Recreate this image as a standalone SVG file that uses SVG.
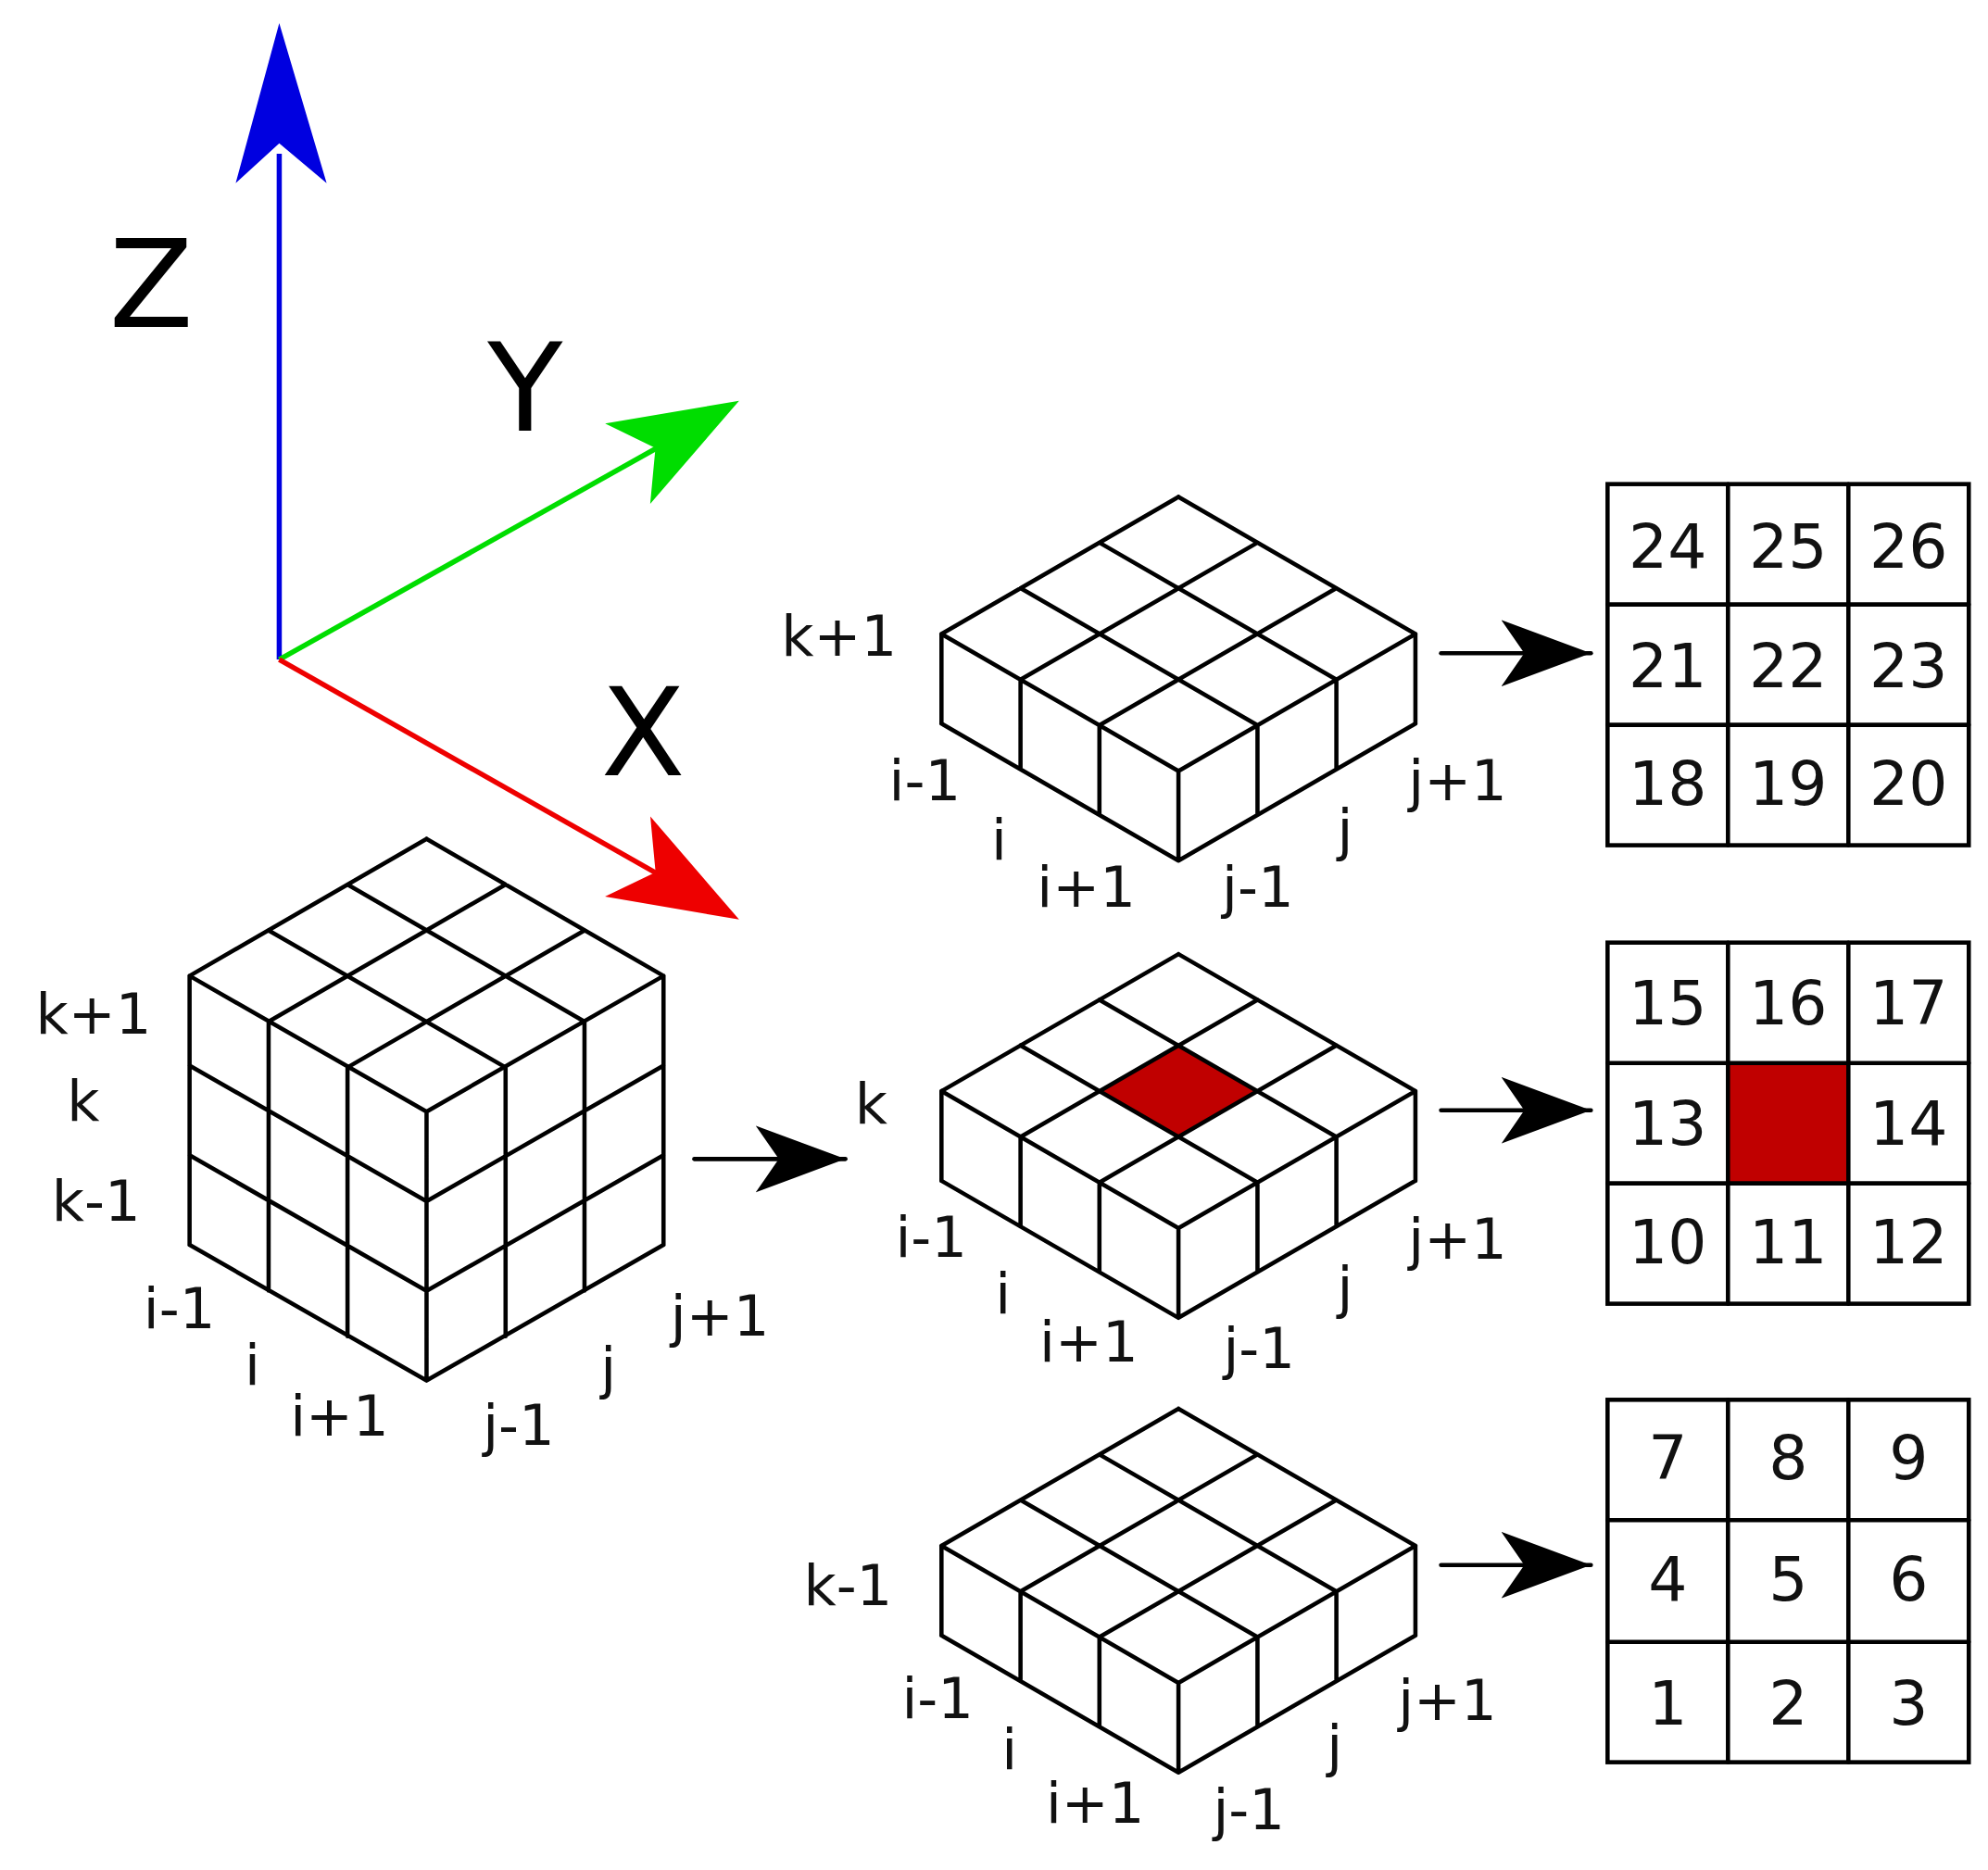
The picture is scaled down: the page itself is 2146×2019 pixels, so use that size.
<svg xmlns="http://www.w3.org/2000/svg" xmlns:xlink="http://www.w3.org/1999/xlink" width="2146" height="2019" viewBox="0 0 2146 2019">
<style>
.ln{stroke:#000;stroke-width:3.3;fill:none;stroke-linecap:round;stroke-linejoin:round}
.t{font-family:"DejaVu Sans",Verdana,sans-serif;font-size:44px;fill:#111;text-anchor:middle;dominant-baseline:central}
.n{font-family:"DejaVu Sans",Verdana,sans-serif;font-size:48px;fill:#111;text-anchor:middle;dominant-baseline:central}
.ax{font-family:"DejaVu Sans",Verdana,sans-serif;font-size:96px;fill:#000;text-anchor:middle;dominant-baseline:central}
.cell{fill:#fff;stroke:#000;stroke-width:3.3}
</style>
<defs>
<marker id="ah" markerUnits="userSpaceOnUse" markerWidth="80" markerHeight="60" refX="70" refY="30" orient="auto">
<path d="M70,30 L0,4 L18,30 L0,56 Z" fill="#000"/>
</marker>
<g id="slab">
<path class="ln" d="M0,0 L185,107 M-61.7,35.7 L123.3,142.7 M-123.3,71.3 L61.7,178.3 M-185,107 L0,214 M0,0 L-185,107 M61.7,35.7 L-123.3,142.7 M123.3,71.3 L-61.7,178.3 M185,107 L0,214 M-185,107 V177 M-123.3,142.7 V212.7 M-61.7,178.3 V248.3 M0,214 V284 M61.7,178.3 V248.3 M123.3,142.7 V212.7 M185,107 V177 M-185,177 L0,284 L185,177"/>
</g>
</defs>
<rect width="2146" height="2019" fill="#fff"/>
<g transform="scale(1.38273)">
<g id="axes">
<line x1="218" y1="515" x2="218" y2="120" stroke="#0000e0" stroke-width="4"/>
<path d="M218,18 L184,143 L218,112 L255,143 Z" fill="#0000e0"/>
<line x1="218" y1="515" x2="525" y2="343" stroke="#00dd00" stroke-width="4"/>
<path d="M577,313 L472.4,330.6 L511.7,349.8 L507.6,393.4 Z" fill="#00dd00"/>
<line x1="218" y1="515" x2="525" y2="689" stroke="#ee0000" stroke-width="4"/>
<path d="M577,718 L507.7,637.5 L511.8,681 L472.3,700.1 Z" fill="#ee0000"/>
<text class="ax" x="118" y="222">Z</text>
<text class="ax" x="410" y="303">Y</text>
<text class="ax" x="502" y="572">X</text>
</g>
<g id="cube">
<path class="ln" d="M333,655 L518,762 M271.3,690.7 L456.3,797.7 M209.6,726.4 L394.6,833.4 M148,762 L333,868 M333,655 L148,762 M394.7,690.7 L209.7,797.7 M456.4,726.4 L271.4,833.4 M518,762 L333,868
M148,762 V972 M209.7,797.7 V1007.7 M271.3,833.4 V1043.4 M333,868 V1078 M394.7,833.4 V1043.4 M456.3,797.7 V1007.7 M518,762 V972
M148,832 L333,938 L518,832 M148,902 L333,1008 L518,902 M148,972 L333,1078 L518,972"/>
<text class="t" x="73" y="792">k+1</text>
<text class="t" x="65" y="860">k</text>
<text class="t" x="75" y="938">k-1</text>
<text class="t" x="140" y="1022">i-1</text>
<text class="t" x="197" y="1066">i</text>
<text class="t" x="265" y="1106">i+1</text>
<text class="t" x="405" y="1113">j-1</text>
<text class="t" x="475" y="1068">j</text>
<text class="t" x="562" y="1028">j+1</text>
</g>
<g id="slab-top">
<use xlink:href="#slab" href="#slab" x="920" y="388"/>
<text class="t" x="655" y="497">k+1</text>
<text class="t" x="722" y="610">i-1</text>
<text class="t" x="780" y="656">i</text>
<text class="t" x="848" y="693">i+1</text>
<text class="t" x="982" y="693">j-1</text>
<text class="t" x="1050" y="648">j</text>
<text class="t" x="1138" y="610">j+1</text>
</g>
<g id="slab-mid">
<path d="M920,816.4 L858.3,852 L920,887.7 L981.7,852 Z" fill="#c00000"/>
<use xlink:href="#slab" href="#slab" x="920" y="745"/>
<text class="t" x="680" y="862">k</text>
<text class="t" x="727" y="966">i-1</text>
<text class="t" x="783" y="1010">i</text>
<text class="t" x="850" y="1048">i+1</text>
<text class="t" x="983" y="1053">j-1</text>
<text class="t" x="1050" y="1005">j</text>
<text class="t" x="1138" y="968">j+1</text>
</g>
<g id="slab-bot">
<use xlink:href="#slab" href="#slab" x="920" y="1100"/>
<text class="t" x="662" y="1238">k-1</text>
<text class="t" x="732" y="1326">i-1</text>
<text class="t" x="788" y="1366">i</text>
<text class="t" x="855" y="1408">i+1</text>
<text class="t" x="975" y="1413">j-1</text>
<text class="t" x="1042" y="1363">j</text>
<text class="t" x="1130" y="1328">j+1</text>
</g>
<g id="grid-top">
<rect class="cell" x="1255" y="378" width="282" height="282"/>
<path class="ln" d="M1349,378 V660 M1443,378 V660 M1255,472 H1537 M1255,566 H1537"/>
<text class="n" x="1302" y="427">24</text><text class="n" x="1396" y="427">25</text><text class="n" x="1490" y="427">26</text>
<text class="n" x="1302" y="520">21</text><text class="n" x="1396" y="520">22</text><text class="n" x="1490" y="520">23</text>
<text class="n" x="1302" y="612">18</text><text class="n" x="1396" y="612">19</text><text class="n" x="1490" y="612">20</text>
</g>
<g id="grid-mid">
<rect class="cell" x="1255" y="736" width="282" height="282"/>
<rect x="1349" y="830" width="94" height="94" fill="#c00000"/>
<path class="ln" d="M1349,736 V1018 M1443,736 V1018 M1255,830 H1537 M1255,924 H1537"/>
<text class="n" x="1302" y="783">15</text><text class="n" x="1396" y="783">16</text><text class="n" x="1490" y="783">17</text>
<text class="n" x="1302" y="877">13</text><text class="n" x="1490" y="877">14</text>
<text class="n" x="1302" y="970">10</text><text class="n" x="1396" y="970">11</text><text class="n" x="1490" y="970">12</text>
</g>
<g id="grid-bot">
<rect class="cell" x="1255" y="1093" width="282" height="283"/>
<path class="ln" d="M1349,1093 V1376 M1443,1093 V1376 M1255,1187 H1537 M1255,1282 H1537"/>
<text class="n" x="1302" y="1138">7</text><text class="n" x="1396" y="1138">8</text><text class="n" x="1490" y="1138">9</text>
<text class="n" x="1302" y="1233">4</text><text class="n" x="1396" y="1233">5</text><text class="n" x="1490" y="1233">6</text>
<text class="n" x="1302" y="1330">1</text><text class="n" x="1396" y="1330">2</text><text class="n" x="1490" y="1330">3</text>
</g>
<g id="connectors">
<line class="ln" x1="542" y1="905" x2="660" y2="905" marker-end="url(#ah)"/>
<line class="ln" x1="1125" y1="510" x2="1242" y2="510" marker-end="url(#ah)"/>
<line class="ln" x1="1125" y1="867" x2="1242" y2="867" marker-end="url(#ah)"/>
<line class="ln" x1="1125" y1="1222" x2="1242" y2="1222" marker-end="url(#ah)"/>
</g>
</g>
</svg>
